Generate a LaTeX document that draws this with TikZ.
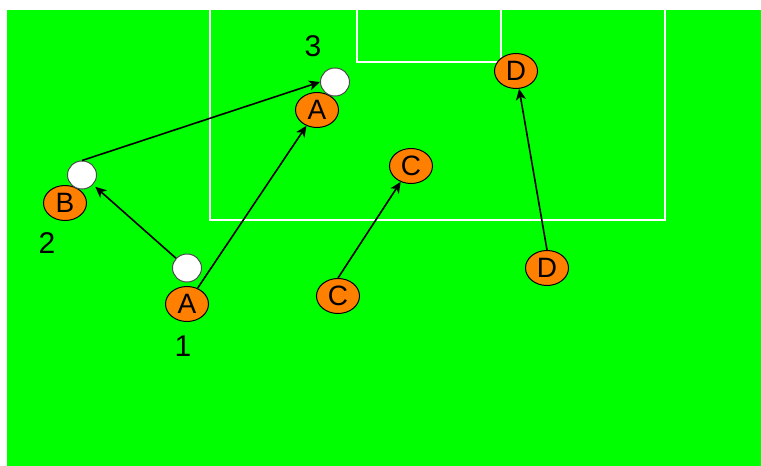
\documentclass[tikz,border=0pt]{standalone}
\usepackage{fontspec}
\setmainfont{Liberation Sans}
\usetikzlibrary{shapes.geometric,arrows.meta}
\definecolor{pitch}{HTML}{00FF00}
\definecolor{shirt}{HTML}{FF8000}
\tikzset{
  player/.style={ellipse,draw=black,line width=1pt,fill=shirt,minimum width=43pt,minimum height=35pt,inner sep=0pt,font=\fontsize{28}{28}\selectfont},
  ball/.style={ellipse,draw=black!70,line width=1pt,fill=white,minimum width=29pt,minimum height=28pt,inner sep=0pt},
  numlabel/.style={inner sep=0pt,font=\fontsize{30}{30}\selectfont},
  pitchline/.style={draw=white,line width=1.6pt},
  move/.style={draw=black,line width=1.6pt,-{Stealth[length=11pt,width=10pt,inset=3pt]}}
}
\begin{document}
\begin{tikzpicture}[x=1pt,y=-1pt]
\useasboundingbox (0,0) rectangle (761,466);
\fill[white] (0,0) rectangle (761,466);
\fill[pitch] (7,10) rectangle (761,466);
% penalty box and goal area
\draw[pitchline] (210,10) -- (210,220) -- (665,220) -- (665,10);
\draw[pitchline] (357,10) -- (357,62) -- (501,62) -- (501,10);
% players
\node[player] (At) at (317,110) {A};
\node[player] (Ab) at (187,304) {A};
\node[player] (B) at (65,203) {B};
\node[player] (Cb) at (338,296) {C};
\node[player] (Ct) at (411,166) {C};
\node[player] (Dt) at (516,71) {D};
\node[player] (Db) at (547,268) {D};
% balls
\node[ball] (ballT) at (335,82) {};
\node[ball] (ballB) at (82,175) {};
\node[ball] (ball1) at (187,268) {};
% labels
\node[numlabel] (n3) at (313,46) {3};
\node[numlabel] (n2) at (47,243) {2};
\node[numlabel] (n1) at (183,346) {1};
% movements
\draw[move] (Ab) -- (At);
\draw[move,shorten >=3pt] (ball1) -- (ballB);
\draw[move] (ballB.north) -- (ballT.west);
\draw[move] (Cb.north) -- (Ct);
\draw[move] (Db.north) -- (Dt);
\end{tikzpicture}
\end{document}
